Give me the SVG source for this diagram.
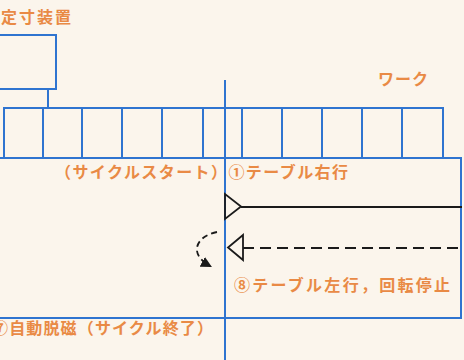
<svg xmlns="http://www.w3.org/2000/svg" width="464" height="360" viewBox="0 0 464 360">
<defs>
<style>
.b{fill:none;stroke:#2f74d0;stroke-width:2}
.k{fill:none;stroke:#1a1a1a;stroke-width:1.8}
.t{font-family:"Noto Sans CJK JP","Noto Sans CJK SC",sans-serif;font-weight:bold;fill:#e98a45;font-size:16px}
</style>
<marker id="ah" viewBox="0 0 10 10" refX="8" refY="5" markerWidth="11" markerHeight="11" orient="auto" markerUnits="userSpaceOnUse">
<path d="M0,0 L10,5 L0,10 Z" fill="#1a1a1a"/>
</marker>
</defs>
<rect width="464" height="360" fill="#fbf5ec"/>
<g id="measuring-device">
<rect class="b" x="-10" y="35" width="66" height="54"/>
<text class="t" x="1" y="23" textLength="70" lengthAdjust="spacing">定寸装置</text>
</g>
<g id="work">
<rect class="b" x="4" y="108" width="439" height="50"/>
<path class="b" d="M43,108V158M82,108V158M122,108V158M162,108V158M203,108V158M242,108V158M282,108V158M322,108V158M362,108V158M402,108V158"/>
<text class="t" x="378" y="85" textLength="50" lengthAdjust="spacing">ワーク</text>
</g>
<g id="table">
<path class="b" d="M0,158H461V318H0"/>
</g>
<g id="axis">
<path class="b" d="M225,80V360"/>
</g>
<g id="labels">
<text class="t" x="55" y="178" textLength="293" lengthAdjust="spacing">（サイクルスタート）①テーブル右行</text>
<text class="t" x="234" y="291" textLength="216" lengthAdjust="spacing">⑧テーブル左行，回転停止</text>
<text class="t" x="-8" y="334" textLength="221" lengthAdjust="spacing">⑦自動脱磁（サイクル終了）</text>
</g>
<g id="connectors">
<path class="b" d="M48,89V108"/>
<path class="k" d="M225,194V219L241,206.5Z"/>
<path class="k" d="M241,207H462"/>
<path class="k" d="M243,235V260L228,247.5Z"/>
<path class="k" d="M243,248H462" stroke-dasharray="11,6"/>
<path class="k" d="M217,232C196,236 188,254 210,266" stroke-width="2.2" stroke-dasharray="6,4" marker-end="url(#ah)"/>
</g>
</svg>
